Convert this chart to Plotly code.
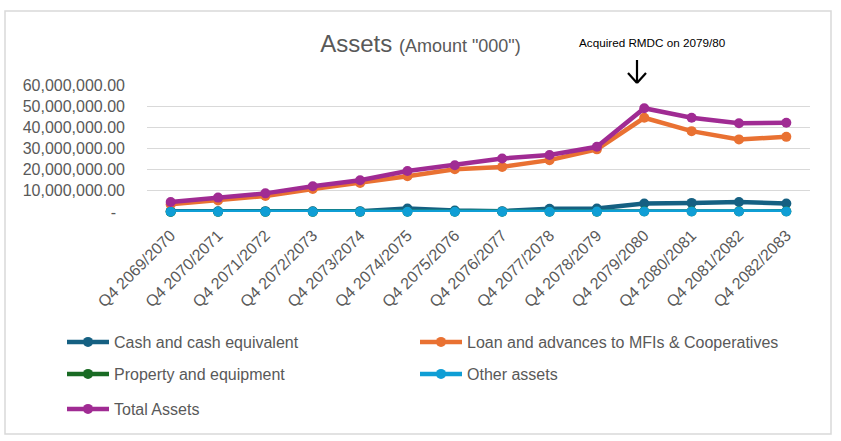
import plotly.graph_objects as go

categories = ["Q4 2069/2070", "Q4 2070/2071", "Q4 2071/2072", "Q4 2072/2073",
              "Q4 2073/2074", "Q4 2074/2075", "Q4 2075/2076", "Q4 2076/2077",
              "Q4 2077/2078", "Q4 2078/2079", "Q4 2079/2080", "Q4 2080/2081",
              "Q4 2081/2082", "Q4 2082/2083"]

cash = [300e3, 350e3, 400e3, 350e3, 400e3, 1.6e6, 700e3, 400e3, 1.5e6, 1.6e6,
        4.0e6, 4.3e6, 4.7e6, 4.0e6]
loan = [3.6e6, 5.4e6, 7.6e6, 10.9e6, 13.7e6, 16.9e6, 20.2e6, 21.3e6, 24.5e6, 29.6e6,
        44.5e6, 38.2e6, 34.3e6, 35.5e6]
property_eq = [50e3, 60e3, 60e3, 70e3, 70e3, 80e3, 80e3, 90e3, 90e3, 100e3,
               300e3, 300e3, 300e3, 300e3]
other = [100e3, 100e3, 120e3, 120e3, 130e3, 150e3, 150e3, 160e3, 170e3, 180e3,
         200e3, 200e3, 220e3, 220e3]
total = [4.7e6, 6.8e6, 8.8e6, 12.2e6, 15.0e6, 19.4e6, 22.1e6, 25.3e6, 26.9e6, 30.8e6,
         49.0e6, 44.5e6, 41.9e6, 42.2e6]

tick_vals = [0, 10e6, 20e6, 30e6, 40e6, 50e6, 60e6]
tick_text = ["-\u00a0\u00a0", "10,000,000.00", "20,000,000.00", "30,000,000.00",
             "40,000,000.00", "50,000,000.00", "60,000,000.00"]

series = [
    ("Cash and cash equivalent", cash, "#156082", "legend"),
    ("Loan and advances to MFIs & Cooperatives", loan, "#E97132", "legend4"),
    ("Property and equipment", property_eq, "#196B24", "legend2"),
    ("Other assets", other, "#0F9ED5", "legend5"),
    ("Total Assets", total, "#A02B93", "legend3"),
]

FONT = "Liberation Sans, Arial, sans-serif"
GRAY = "#595959"

fig = go.Figure()
for name, vals, color, lg in series:
    fig.add_trace(go.Scatter(
        x=categories, y=vals, name=name, mode="lines+markers",
        line=dict(color=color, width=4.5),
        marker=dict(color=color, size=10),
        cliponaxis=False, legend=lg, showlegend=True,
    ))

L, R, T, B = 147, 31, 85, 229
W, H = 841, 441
pw, ph = W - L - R, H - T - B

def px(x):
    return (x - L) / pw

def py(y):
    return (H - B - y) / ph

legend_common = dict(orientation="h", xanchor="left", yanchor="middle",
                     font=dict(family=FONT, size=16, color=GRAY),
                     bgcolor="rgba(0,0,0,0)", itemwidth=42)

shapes = [
    dict(type="rect", xref="paper", yref="paper", x0=px(5), x1=px(831), y0=py(434), y1=py(11),
         line=dict(color="#D9D9D9", width=1.5), fillcolor="rgba(0,0,0,0)", layer="above"),
    dict(type="rect", xref="paper", yref="paper", x0=px(599), x1=px(698), y0=py(90), y1=py(80),
         line=dict(width=0), fillcolor="white", layer="above"),
    dict(type="line", xref="paper", yref="paper", x0=px(637), x1=px(637), y0=py(60), y1=py(83),
         line=dict(color="black", width=2.2), layer="above"),
    dict(type="line", xref="paper", yref="paper", x0=px(628), x1=px(637), y0=py(73), y1=py(83),
         line=dict(color="black", width=2.2), layer="above"),
    dict(type="line", xref="paper", yref="paper", x0=px(646), x1=px(637), y0=py(73), y1=py(83),
         line=dict(color="black", width=2.2), layer="above"),
]

fig.update_layout(
    width=W, height=H,
    margin=dict(l=L, r=R, t=T, b=B),
    paper_bgcolor="white", plot_bgcolor="white",
    showlegend=True,
    font=dict(family=FONT, color=GRAY),
    title=dict(text="Assets <span style='font-size:18px'>(Amount \"000\")</span>",
               font=dict(family=FONT, size=24, color=GRAY),
               x=0.5, xref="container", xanchor="center",
               y=1 - 44 / H, yref="container", yanchor="middle"),
    xaxis=dict(type="category", range=[-0.5, 13.5], showgrid=False, showline=False,
               zeroline=False, tickangle=-45, ticks="", ticklabelstandoff=10,
               tickfont=dict(family=FONT, size=16, color=GRAY)),
    yaxis=dict(range=[0, 60e6], tickvals=tick_vals, ticktext=tick_text,
               showgrid=True, gridcolor="#D9D9D9", gridwidth=1.3, zeroline=False,
               showline=False, ticks="", ticklabelstandoff=21,
               tickfont=dict(family=FONT, size=16, color=GRAY)),
    legend=dict(x=px(62), y=py(342), **legend_common),
    legend2=dict(x=px(62), y=py(374), **legend_common),
    legend3=dict(x=px(62), y=py(409), **legend_common),
    legend4=dict(x=px(415), y=py(342), **legend_common),
    legend5=dict(x=px(415), y=py(374), **legend_common),
    shapes=shapes,
    annotations=[dict(text="Acquired RMDC on 2079/80", xref="paper", yref="paper",
                      x=px(652), y=py(43), showarrow=False, xanchor="center", yanchor="middle",
                      font=dict(family=FONT, size=11.7, color="black"))],
)

fig.write_html("out.html", config={"displayModeBar": False},
               post_script="document.body.style.margin='0';")
